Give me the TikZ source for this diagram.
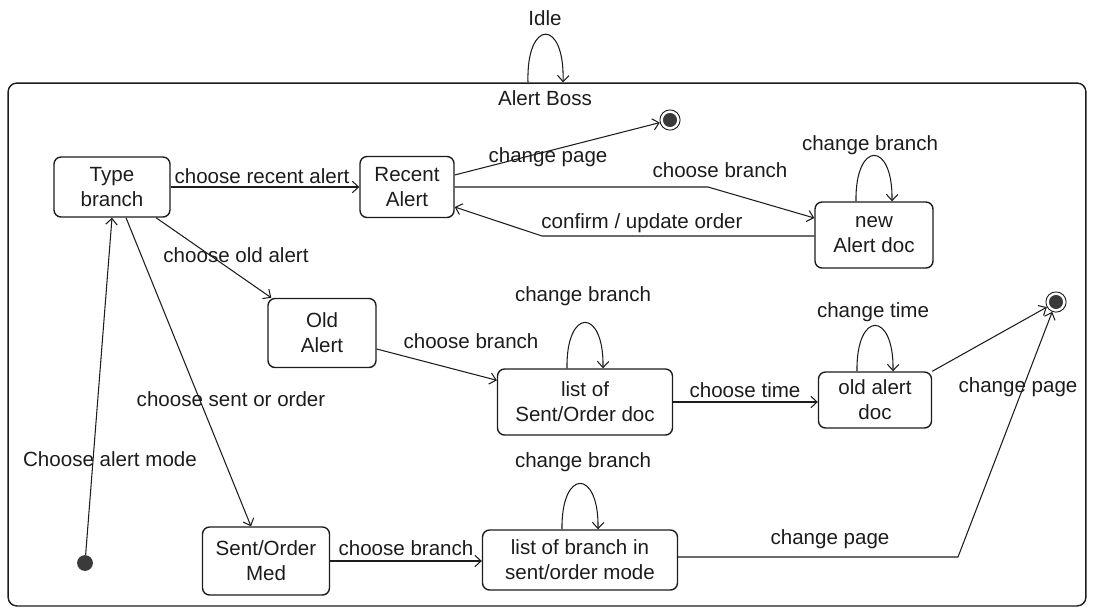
\documentclass[tikz,border=0pt]{standalone}
\usepackage{fontspec}
\setmainfont{Liberation Sans}
\usetikzlibrary{arrows.meta, calc}
\definecolor{ink}{HTML}{1C1C1C}
\definecolor{dot}{HTML}{3A3A3A}

\begin{document}
\begin{tikzpicture}[
    x=0.02cm, y=-0.02cm,
    every node/.style={font=\fontsize{11.7}{14.2}\selectfont, text=ink},
    lbl/.style={inner sep=1pt},
    stbox/.style={rectangle, rounded corners=4pt, draw=ink, line width=0.8pt,
                  align=center, inner sep=2pt},
    bossbox/.style={rectangle, rounded corners=5pt, draw=ink, line width=0.8pt,
                    minimum width=21.56cm, minimum height=10.46cm},
    initdot/.style={circle, fill=dot, minimum size=9pt, inner sep=0pt},
    finaldot/.style={circle, draw=ink, line width=0.5pt, minimum size=11.5pt, inner sep=0pt,
                     path picture={\fill[dot] (path picture bounding box.center) circle (4pt);}},
    arr/.style={-{Straight Barb[length=3.5pt, width=6.5pt]}, line width=0.6pt, color=ink},
]
\useasboundingbox (0,0) rectangle (1096,609);

% ================================================================ outer state
\node[bossbox] (boss) at (547,344.5) {};
\node[lbl] (bossname) at (545,98) {Alert Boss};
\node[lbl] (idle) at (545,18) {Idle};
\draw[arr] ($(boss.north)+(-19,0)$) .. controls +(-2,-64) and +(2,-64) .. ($(boss.north)+(16,0)$);

% ================================================================ states
\node[initdot] (init) at (85,563) {};
\node[stbox, minimum width=2.32cm, minimum height=1.2cm]  (tb) at (112,187) {Type\\branch};
\node[stbox, minimum width=1.88cm, minimum height=1.22cm] (ra) at (407,187) {Recent\\Alert};
\node[finaldot] (fin1) at (670,120) {};
\node[stbox, minimum width=2.36cm, minimum height=1.32cm] (nd) at (874,235) {new\\Alert doc};
\node[stbox, minimum width=2.16cm, minimum height=1.38cm] (oa) at (322,333) {Old\\Alert};
\node[stbox, minimum width=3.5cm, minimum height=1.32cm]  (ls) at (585,402) {list of\\Sent/Order doc};
\node[stbox, minimum width=2.26cm, minimum height=1.12cm] (od) at (875,400) {old alert\\doc};
\node[finaldot] (fin2) at (1056,302) {};
\node[stbox, minimum width=2.54cm, minimum height=1.36cm] (sm) at (266,561) {Sent/Order\\Med};
\node[stbox, minimum width=3.9cm, minimum height=1.2cm]   (lb) at (580,560) {list of branch in\\sent/order mode};

\coordinate (b1) at (708,187);
\coordinate (b2) at (542,236);
\coordinate (b3) at (958,557);

% ================================================================ transitions
\draw[arr] (init) -- (tb.south);
\draw[arr] (tb) -- (ra);
\draw[arr] ($(tb.south)+(44,0)$) -- ($(oa.north west)+(4,0)$);
\draw[arr] ($(tb.south)+(14,0)$) -- ($(sm.north)+(-15,0)$);
\draw[arr] ($(ra.east)+(0,-12)$) -- (fin1);
\draw[arr] (ra.east |- b1) -- (b1) -- ($(nd.west)+(0,-17)$);
\draw[arr] (nd.west |- b2) -- (b2) -- ($(ra.east)+(0,20)$);
\draw[arr] ($(oa.east)+(0,16)$) -- ($(ls.north west)+(0,12)$);
\draw[arr] (ls.east) -- (ls.east -| od.west);
\draw[arr] (od.north east) -- (fin2);
\draw[arr] (sm.east) -- (sm.east -| lb.west);
\draw[arr] (lb.east |- b3) -- (b3) -- (fin2);

\foreach \s in {nd, ls, od, lb}{
    \draw[arr] ($(\s.north)+(-18,0)$) .. controls +(-1,-61) and +(1,-61) .. ($(\s.north)+(18,0)$);
}

% ================================================================ labels
\node[lbl] (l1)  at (262,176)  {choose recent alert};
\node[lbl] (l2)  at (548,157)  {change page};
\node[lbl] (l3)  at (720,170)  {choose branch};
\node[lbl] (l4)  at (642,223)  {confirm / update order};
\node[lbl] (l5)  at (870,145)  {change branch};
\node[lbl] (l6)  at (236,255)  {choose old alert};
\node[lbl] (l7)  at (583,296)  {change branch};
\node[lbl] (l8)  at (471,341)  {choose branch};
\node[lbl] (l9)  at (745,390)  {choose time};
\node[lbl] (l10) at (873,312)  {change time};
\node[lbl] (l11) at (1018,387) {change page};
\node[lbl] (l12) at (231,399)  {choose sent or order};
\node[lbl] (l13) at (110,459)  {Choose alert mode};
\node[lbl] (l14) at (583,462)  {change branch};
\node[lbl] (l15) at (406,548)  {choose branch};
\node[lbl] (l16) at (830,539)  {change page};

\end{tikzpicture}
\end{document}
